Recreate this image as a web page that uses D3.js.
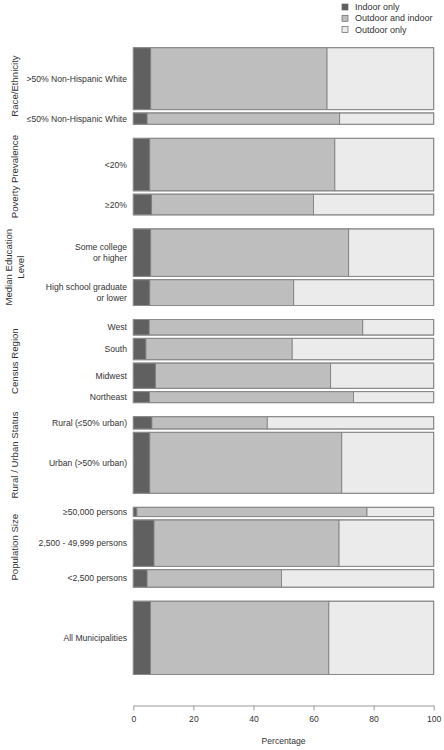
<!DOCTYPE html>
<html>
<head>
<meta charset="utf-8">
<script src="https://cdn.jsdelivr.net/npm/d3@7"></script>
<style>
  body { margin: 0; background: #fff; }
  svg { display: block; font-family: "Liberation Sans", Arial, sans-serif; }
</style>
</head>
<body>
<svg id="chart" width="444" height="750"></svg>
<script>
// ---- Data ----
const groupLabels = [["Race/Ethnicity"], ["Poverty Prevalence"], ["Median Education", "Level"], ["Census Region"], ["Rural / Urban Status"], ["Population Size"], []];
const categories = [
  [">50% Non-Hispanic White"], ["\u226450% Non-Hispanic White"],
  ["<20%"], ["\u226520%"],
  ["Some college", "or higher"], ["High school graduate", "or lower"],
  ["West"], ["South"], ["Midwest"], ["Northeast"],
  ["Rural (\u226450% urban)"], ["Urban (>50% urban)"],
  ["\u226550,000 persons"], ["2,500 - 49,999 persons"], ["<2,500 persons"],
  ["All Municipalities"]
];
const groupIndex = [0,0,1,1,2,2,3,3,3,3,4,4,5,5,5,6];
const shareInGroup = [0.845,0.155, 0.717,0.283, 0.648,0.352, 0.212,0.292,0.345,0.151, 0.168,0.832, 0.127,0.634,0.239, 1.0];
const indoorOnly =       [5.8,4.6, 5.5,6.1, 5.8,5.5, 5.3,4.2,7.4,5.4, 6.2,5.5, 1.2,6.9,4.6, 5.7];
const outdoorAndIndoor = [58.7,64.1, 61.6,53.9, 65.9,47.9, 71.1,48.7,58.3,67.9, 38.4,63.9, 76.6,61.6,44.7, 59.4];
const outdoorOnly =      [35.5,31.3, 32.9,40.0, 28.3,46.6, 23.6,47.1,34.3,26.7, 55.4,30.6, 22.2,31.5,50.7, 34.9];
const seriesNames = ["Indoor only", "Outdoor and indoor", "Outdoor only"];
const xTicks = [0, 20, 40, 60, 80, 100];

// ---- Styles ----
const colors = ["#606060", "#bebebe", "#ebebeb"];
const svg = d3.select("#chart");
const plotLeft = 133.3, plotRight = 433.7, plotTop = 47.7, plotBottom = 674.5;

// vertical layout in "units" (group = 1 unit, gaps as fractions)
const innerGap = 0.045, outerGap = 0.191;
let pos = 0;
const bars = categories.map((c, i) => {
  if (i > 0) pos += (groupIndex[i] === groupIndex[i-1]) ? innerGap : outerGap;
  const y0 = pos;
  pos += shareInGroup[i];
  return {i, y0, y1: pos, g: groupIndex[i]};
});
const y = d3.scaleLinear().domain([0, pos]).range([plotTop, plotBottom]);
const x = d3.scaleLinear().domain([0, 100]).range([plotLeft, plotRight]);

const stackData = categories.map((c, i) => ({
  "Indoor only": indoorOnly[i],
  "Outdoor and indoor": outdoorAndIndoor[i],
  "Outdoor only": outdoorOnly[i]
}));
const stacked = d3.stack().keys(seriesNames)(stackData);

const barG = svg.append("g");
stacked.forEach((layer, k) => {
  barG.selectAll(null).data(layer).enter().append("rect")
    .attr("x", d => x(d[0]))
    .attr("width", d => x(d[1]) - x(d[0]))
    .attr("y", (d, i) => y(bars[i].y0))
    .attr("height", (d, i) => y(bars[i].y1) - y(bars[i].y0))
    .attr("fill", colors[k])
    .attr("stroke", "#7a7a7a")
    .attr("stroke-width", 0.8);
});
// outer outline
barG.selectAll(null).data(bars).enter().append("rect")
  .attr("x", x(0)).attr("width", x(100) - x(0))
  .attr("y", d => y(d.y0)).attr("height", d => y(d.y1) - y(d.y0))
  .attr("fill", "none").attr("stroke", "#8a8a8a").attr("stroke-width", 1);

// category labels
const lineH = 10.7;
bars.forEach(b => {
  const lines = categories[b.i];
  const cy = (y(b.y0) + y(b.y1)) / 2;
  lines.forEach((t, j) => {
    svg.append("text")
      .attr("x", 127)
      .attr("y", cy + (j - (lines.length - 1) / 2) * lineH)
      .attr("dy", "0.35em")
      .attr("text-anchor", "end")
      .attr("font-size", 8.6)
      .attr("fill", "#333")
      .text(t);
  });
});

// group labels (rotated)
groupLabels.forEach((lines, g) => {
  if (!lines.length) return;
  const gb = bars.filter(b => b.g === g);
  const cy = (y(gb[0].y0) + y(gb[gb.length - 1].y1)) / 2;
  lines.forEach((t, j) => {
    const cx = 14.5 + (j - (lines.length - 1) / 2) * 11.5;
    svg.append("text")
      .attr("transform", `translate(${cx},${cy}) rotate(-90)`)
      .attr("dy", "0.35em")
      .attr("text-anchor", "middle")
      .attr("font-size", 9.6)
      .attr("fill", "#333")
      .text(t);
  });
});

// x axis
const axisG = svg.append("g")
  .attr("transform", "translate(0,705.5)")
  .call(d3.axisBottom(x).tickValues(xTicks).tickSize(5).tickSizeOuter(0).tickPadding(5));
axisG.select(".domain").attr("stroke", "#999");
axisG.selectAll(".tick line").attr("stroke", "#999");
axisG.selectAll(".tick text").attr("font-size", 8.6).attr("fill", "#333")
  .attr("font-family", "Liberation Sans, Arial, sans-serif");

svg.append("text")
  .attr("x", (plotLeft + plotRight) / 2).attr("y", 741)
  .attr("dy", "0.35em").attr("text-anchor", "middle")
  .attr("font-size", 8.6).attr("fill", "#333")
  .text("Percentage");

// legend
const legend = svg.append("g");
seriesNames.forEach((s, k) => {
  const ly = 7 + k * 11.3;
  legend.append("rect")
    .attr("x", 342).attr("y", ly - 3).attr("width", 6).attr("height", 6)
    .attr("fill", colors[k]).attr("stroke", "#666").attr("stroke-width", 0.7);
  legend.append("text")
    .attr("x", 355).attr("y", ly).attr("dy", "0.35em")
    .attr("font-size", 9).attr("fill", "#333")
    .text(s);
});
</script>
</body>
</html>
